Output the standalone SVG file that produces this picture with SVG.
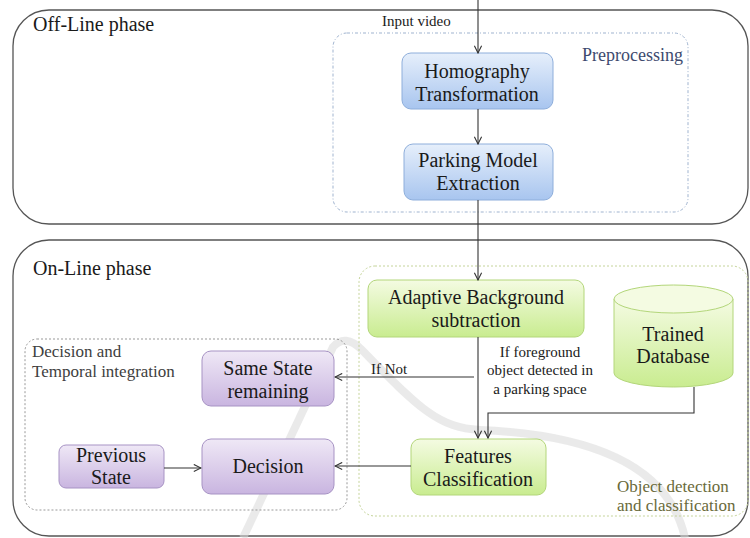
<svg xmlns="http://www.w3.org/2000/svg" width="750" height="538" viewBox="0 0 750 538" font-family="'Liberation Serif', 'DejaVu Serif', serif">
<defs>
<linearGradient id="gBlue" x1="0" y1="0" x2="0" y2="1"><stop offset="0" stop-color="#e6effb"/><stop offset="1" stop-color="#a8c5ef"/></linearGradient>
<linearGradient id="gGreen" x1="0" y1="0" x2="0" y2="1"><stop offset="0" stop-color="#f4fbe2"/><stop offset="1" stop-color="#c9ec90"/></linearGradient>
<linearGradient id="gPurple" x1="0" y1="0" x2="0" y2="1"><stop offset="0" stop-color="#efe8f6"/><stop offset="1" stop-color="#c9b5e0"/></linearGradient>
<marker id="arr" viewBox="0 0 10 10" refX="9" refY="5" markerWidth="9" markerHeight="9" orient="auto" markerUnits="userSpaceOnUse"><path d="M1,1 L9,5 L1,9" fill="none" stroke="#333" stroke-width="1.2"/></marker>
</defs>
<style>
text{font-family:'Liberation Serif','DejaVu Serif',serif;fill:#1a1a1a}
.t{font-size:20px;text-anchor:middle}
.phase{fill:#fff;stroke:#555;stroke-width:1.3}
.blue{fill:url(#gBlue);stroke:#8eaedb;stroke-width:1}
.green{fill:url(#gGreen);stroke:#b3d67a;stroke-width:1}
.purple{fill:url(#gPurple);stroke:#a793c4;stroke-width:1}
.c{fill:none;stroke:#333;stroke-width:1.1}
</style>
<rect width="750" height="538" fill="#fff"/>
<g id="offline">
<rect class="phase" x="13" y="10" width="735" height="214" rx="36"/>
<text x="33" y="31" font-size="20">Off-Line phase</text>
</g>
<g id="online">
<rect class="phase" x="13" y="240" width="735" height="296" rx="36"/>
<text x="33" y="275" font-size="20">On-Line phase</text>
</g>
<path d="M243,538 L333,347 Q345,333 362,350 C420,410 440,428 480,430 C600,435 670,470 685,538" fill="none" stroke="#d9d9d9" stroke-width="8" opacity="0.55"/>
<g id="preprocessing">
<rect x="333" y="33" width="355" height="179" rx="14" fill="none" stroke="#9fb3cf" stroke-width="1" stroke-dasharray="3,2,1,2"/>
<text x="582" y="61" font-size="18" style="fill:#3d4a6e">Preprocessing</text>
</g>
<g id="objdet">
<rect x="359" y="266" width="389" height="250" rx="16" fill="none" stroke="#c5d49a" stroke-width="1" stroke-dasharray="2,2"/>
<text x="617" y="492" font-size="17" style="fill:#6a6a3a">Object detection</text>
<text x="617" y="511" font-size="17" style="fill:#6a6a3a">and classification</text>
</g>
<g id="decgroup">
<rect x="25" y="339" width="322" height="171" rx="12" fill="none" stroke="#999" stroke-width="1" stroke-dasharray="2,2"/>
<text x="32" y="357" font-size="17" style="fill:#404040">Decision and</text>
<text x="32" y="377" font-size="17" style="fill:#404040">Temporal integration</text>
</g>
<g id="homography">
<rect class="blue" x="402" y="53" width="151" height="56" rx="9"/>
<text class="t" x="477" y="78">Homography</text>
<text class="t" x="477" y="101">Transformation</text>
</g>
<g id="parking">
<rect class="blue" x="404" y="144" width="149" height="56" rx="9"/>
<text class="t" x="478" y="167">Parking Model</text>
<text class="t" x="478" y="190">Extraction</text>
</g>
<g id="adaptive">
<rect class="green" x="368" y="280" width="216" height="57" rx="9"/>
<text class="t" x="476" y="304">Adaptive Background</text>
<text class="t" x="476" y="327">subtraction</text>
</g>
<g id="database">
<path d="M614,299 L614,373 A59.5,14 0 0 0 733,373 L733,299" fill="url(#gGreen)" stroke="#b3d67a" stroke-width="1"/>
<ellipse cx="673.5" cy="299" rx="59.5" ry="14" fill="#f4fbe2" stroke="#b3d67a" stroke-width="1"/>
<text class="t" x="673" y="341">Trained</text>
<text class="t" x="673" y="363">Database</text>
</g>
<g id="features">
<rect class="green" x="411" y="439" width="135" height="56" rx="9"/>
<text class="t" x="478" y="463">Features</text>
<text class="t" x="478" y="486">Classification</text>
</g>
<g id="samestate">
<rect class="purple" x="202" y="351" width="132" height="55" rx="9"/>
<text class="t" x="268" y="375">Same State</text>
<text class="t" x="268" y="398">remaining</text>
</g>
<g id="previous">
<rect class="purple" x="59" y="445" width="105" height="43" rx="7"/>
<text class="t" x="111" y="462">Previous</text>
<text class="t" x="111" y="484">State</text>
</g>
<g id="decision">
<rect class="purple" x="202" y="439" width="132" height="55" rx="9"/>
<text class="t" x="268" y="473">Decision</text>
</g>
<g id="connectors">
<line class="c" x1="478" y1="0" x2="478" y2="53" marker-end="url(#arr)"/>
<text x="382" y="26" font-size="15">Input video</text>
<line class="c" x1="478" y1="109" x2="478" y2="144" marker-end="url(#arr)"/>
<line class="c" x1="478" y1="200" x2="478" y2="280" marker-end="url(#arr)"/>
<line class="c" x1="478" y1="337" x2="478" y2="438" marker-end="url(#arr)"/>
<text x="540" y="357" font-size="15" text-anchor="middle">If  foreground</text>
<text x="540" y="375" font-size="15" text-anchor="middle">object detected in</text>
<text x="540" y="394" font-size="15" text-anchor="middle">a parking space</text>
<line class="c" x1="474" y1="377" x2="335" y2="377" marker-end="url(#arr)"/>
<text x="371" y="374" font-size="15">If  Not</text>
<polyline class="c" points="694,387 694,413 488,413 488,438" marker-end="url(#arr)"/>
<line class="c" x1="411" y1="466" x2="335" y2="466" marker-end="url(#arr)"/>
<line class="c" x1="164" y1="468" x2="201" y2="468" marker-end="url(#arr)"/>
</g>
</svg>
